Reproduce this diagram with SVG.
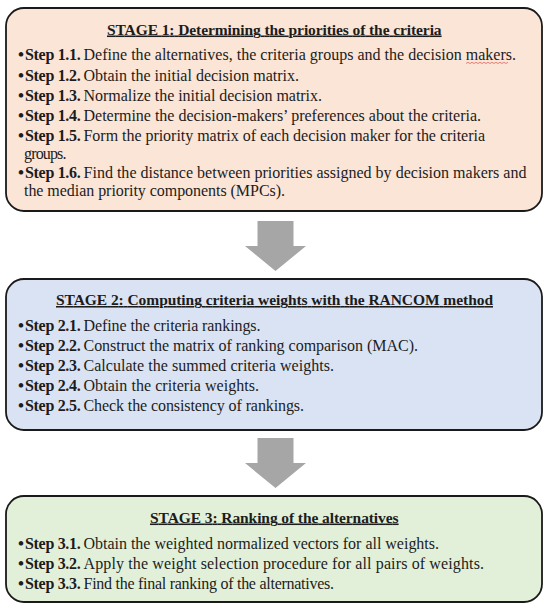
<svg xmlns="http://www.w3.org/2000/svg" width="550" height="613" viewBox="0 0 550 613">
<style>
.box{stroke:#1a1a1a;stroke-width:1.8}
.s1{fill:#fbe5d6}.s2{fill:#dae3f3}.s3{fill:#e2f0d9}
text{font-family:"Liberation Serif","Times New Roman",serif;font-size:16px;fill:#1c1c1c}
.title{font-weight:bold;font-size:15.5px;text-decoration:underline;text-anchor:middle}
.b{font-weight:bold}
.d{font-weight:bold;font-size:17px}
.arrow{fill:#a6a6a6}
</style>
<rect width="550" height="613" fill="#ffffff"/>
<g id="connectors">
<polygon class="arrow" points="257.5,221 293.5,221 293.5,246 306,246 275.5,271 245,246 257.5,246"/>
<polygon class="arrow" points="257.5,438 293.5,438 293.5,463 306,463 275.5,488 245,463 257.5,463"/>
</g>
<g id="stage1">
<rect class="box s1" x="6" y="8" width="536" height="203" rx="18"/>
<text class="title" x="274.3" y="34.5" textLength="334.6">STAGE 1: Determining the priorities of the criteria</text>
<text y="60"><tspan x="18" class="d">•</tspan><tspan x="25" class="b" textLength="55.7">Step 1.1.</tspan><tspan x="83.5" textLength="432.5">Define the alternatives, the criteria groups and the decision makers.</tspan></text>
<path d="M466,63.5 l2,-1.2 l2,1.2 l2,-1.2 l2,1.2 l2,-1.2 l2,1.2 l2,-1.2 l2,1.2 l2,-1.2 l2,1.2 l2,-1.2 l2,1.2 l2,-1.2 l2,1.2 l2,-1.2 l2,1.2 l2,-1.2 l2,1.2 l2,-1.2 l2,1.2 l2,-1.2" fill="none" stroke="#d9534f" stroke-width="0.7"/>
<text y="80.5"><tspan x="18" class="d">•</tspan><tspan x="25" class="b" textLength="55.7">Step 1.2.</tspan><tspan x="83.5" textLength="215.5">Obtain the initial decision matrix.</tspan></text>
<text y="100.5"><tspan x="18" class="d">•</tspan><tspan x="25" class="b" textLength="55.7">Step 1.3.</tspan><tspan x="83.5" textLength="238.5">Normalize the initial decision matrix.</tspan></text>
<text y="120.5"><tspan x="18" class="d">•</tspan><tspan x="25" class="b" textLength="55.7">Step 1.4.</tspan><tspan x="83.5" textLength="397.5">Determine the decision-makers’ preferences about the criteria.</tspan></text>
<text y="140.5"><tspan x="18" class="d">•</tspan><tspan x="25" class="b" textLength="55.7">Step 1.5.</tspan><tspan x="83.5" textLength="401.5">Form the priority matrix of each decision maker for the criteria</tspan></text>
<text x="24" y="158.5" textLength="42.5">groups.</text>
<text y="178"><tspan x="18" class="d">•</tspan><tspan x="25" class="b" textLength="55.7">Step 1.6.</tspan><tspan x="83.5" textLength="443">Find the distance between priorities assigned by decision makers and</tspan></text>
<text x="24" y="196" textLength="261">the median priority components (MPCs).</text>
</g>
<g id="stage2">
<rect class="box s2" x="6" y="279" width="536" height="151" rx="18"/>
<text class="title" x="274.5" y="305" textLength="437">STAGE 2: Computing criteria weights with the RANCOM method</text>
<text y="330.5"><tspan x="18" class="d">•</tspan><tspan x="25" class="b" textLength="55.7">Step 2.1.</tspan><tspan x="83.5" textLength="177">Define the criteria rankings.</tspan></text>
<text y="350.5"><tspan x="18" class="d">•</tspan><tspan x="25" class="b" textLength="55.7">Step 2.2.</tspan><tspan x="83.5" textLength="334.5">Construct the matrix of ranking comparison (MAC).</tspan></text>
<text y="370.5"><tspan x="18" class="d">•</tspan><tspan x="25" class="b" textLength="55.7">Step 2.3.</tspan><tspan x="83.5" textLength="250.5">Calculate the summed criteria weights.</tspan></text>
<text y="390.5"><tspan x="18" class="d">•</tspan><tspan x="25" class="b" textLength="55.7">Step 2.4.</tspan><tspan x="83.5" textLength="175.5">Obtain the criteria weights.</tspan></text>
<text y="410.5"><tspan x="18" class="d">•</tspan><tspan x="25" class="b" textLength="55.7">Step 2.5.</tspan><tspan x="83.5" textLength="220.5">Check the consistency of rankings.</tspan></text>
</g>
<g id="stage3">
<rect class="box s3" x="6" y="496" width="536" height="106" rx="18"/>
<text class="title" x="274.3" y="522.5" textLength="248.6">STAGE 3: Ranking of the alternatives</text>
<text y="548.5"><tspan x="18" class="d">•</tspan><tspan x="25" class="b" textLength="55.7">Step 3.1.</tspan><tspan x="83.5" textLength="355.5">Obtain the weighted normalized vectors for all weights.</tspan></text>
<text y="568.5"><tspan x="18" class="d">•</tspan><tspan x="25" class="b" textLength="55.7">Step 3.2.</tspan><tspan x="83.5" textLength="400.5">Apply the weight selection procedure for all pairs of weights.</tspan></text>
<text y="588.5"><tspan x="18" class="d">•</tspan><tspan x="25" class="b" textLength="55.7">Step 3.3.</tspan><tspan x="83.5" textLength="250.5">Find the final ranking of the alternatives.</tspan></text>
</g>
</svg>
